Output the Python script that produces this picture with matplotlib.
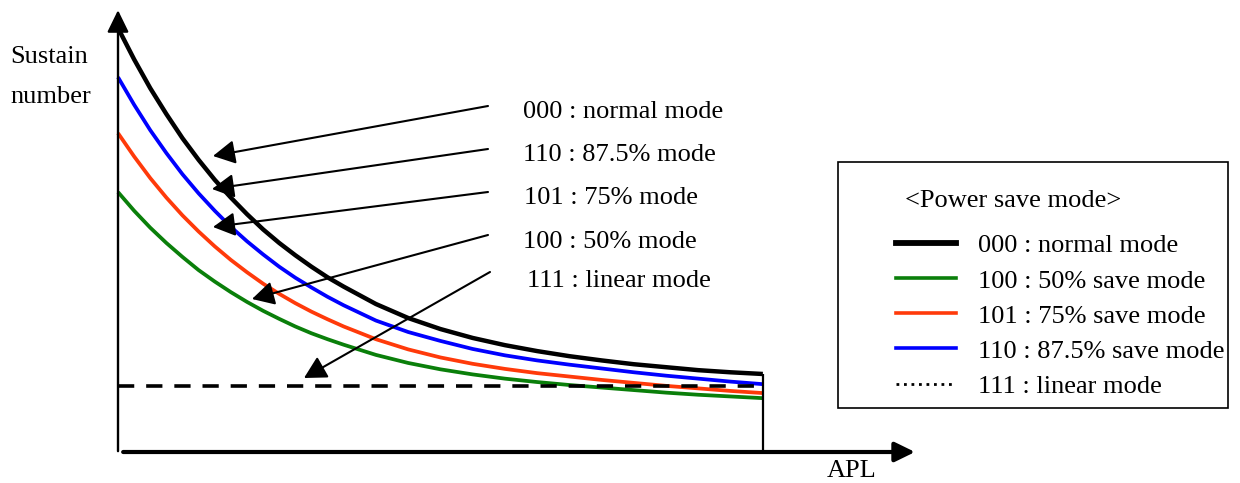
import matplotlib.pyplot as plt
from matplotlib.lines import Line2D
from matplotlib.patches import Rectangle

# APL (percent of full scale) and sustain number (percent of max)
apl = [0, 2.5, 5, 7.5, 10, 12.5, 15, 17.5, 20, 22.5, 25, 27.5, 30, 32.5, 35,
       40, 45, 50, 55, 60, 65, 70, 75, 80, 85, 90, 95, 100]
normal = [100, 92.6, 85.8, 79.7, 74.0, 68.9, 64.2, 60.0, 56.1, 52.5, 49.3, 46.4, 43.7, 41.2, 39.0,
          34.9, 31.6, 29.0, 26.9, 25.2, 23.8, 22.6, 21.6, 20.7, 20.0, 19.3, 18.8, 18.4]
save_875 = [88.4, 81.9, 75.9, 70.5, 65.5, 61.0, 56.9, 53.1, 49.7, 46.6, 43.7, 41.1, 38.8, 36.6, 34.6,
            31.0, 28.3, 26.2, 24.3, 22.8, 21.6, 20.6, 19.7, 18.8, 18.0, 17.3, 16.6, 16.0]
save_75 = [75.2, 69.7, 64.6, 60.0, 55.8, 52.0, 48.5, 45.3, 42.4, 39.7, 37.3, 35.1, 33.1, 31.3, 29.6,
           26.6, 24.2, 22.3, 20.8, 19.6, 18.6, 17.8, 17.0, 16.3, 15.6, 15.0, 14.4, 13.9]
save_50 = [61.3, 56.9, 52.9, 49.3, 46.0, 42.9, 40.2, 37.7, 35.4, 33.3, 31.4, 29.6, 28.0, 26.6, 25.3,
           22.9, 21.0, 19.5, 18.3, 17.3, 16.5, 15.8, 15.2, 14.6, 14.0, 13.5, 13.1, 12.7]
linear_level = 15.6

mode_labels = ["000 : normal mode", "110 : 87.5% mode", "101 : 75% mode",
               "100 : 50% mode", "111 : linear mode"]
legend_labels = ["000 : normal mode", "100 : 50% save mode", "101 : 75% save mode",
                 "110 : 87.5% save mode", "111 : linear mode"]

GREEN = "#0a7f0a"
RED = "#ff3a0a"
BLUE = "#0000ff"

plt.rcParams['font.family'] = ['Liberation Serif', 'DejaVu Serif']
FS = 19

fig = plt.figure(figsize=(12.4, 4.83), dpi=100)
ax = fig.add_axes([0, 0, 1, 1])
ax.set_xlim(-18.3, 174.0)
ax.set_ylim(-7.31, 106.6)
ax.axis('off')


def fpos(x, y):
    # pixel position (from top-left) -> figure fraction
    return (x / 1240, 1 - y / 483)


# curves
ax.plot(apl, normal, color='black', lw=3.2, solid_capstyle='butt')
ax.plot(apl, save_875, color=BLUE, lw=2.7, solid_capstyle='butt')
ax.plot(apl, save_75, color=RED, lw=2.7, solid_capstyle='butt')
ax.plot(apl, save_50, color=GREEN, lw=2.7, solid_capstyle='butt')
ax.plot([apl[0], apl[-1]], [linear_level, linear_level], color='black', lw=2.6,
        dashes=(4.5, 3.3))
ax.vlines(apl[-1], 0, normal[-1], color='black', lw=1.6)

# axes with arrow heads
ax.annotate('', xy=(0, 104.2), xytext=(0, 0.2),
            arrowprops=dict(arrowstyle='-|>,head_length=0.45,head_width=0.22', color='black',
                            lw=1.7, mutation_scale=30, shrinkA=0, shrinkB=0))
ax.annotate('', xy=(123.6, 0), xytext=(0.8, 0),
            arrowprops=dict(arrowstyle='-|>,head_length=0.45,head_width=0.22', color='black',
                            lw=3.0, mutation_scale=27, shrinkA=0, shrinkB=0))

fig.text(*fpos(10, 63), "Sustain", fontsize=FS, va='baseline')
fig.text(*fpos(10, 103), "number", fontsize=FS, va='baseline')
fig.text(*fpos(827, 477), "APL", fontsize=FS, va='baseline')

# callouts
text_x = [523, 523, 524, 523, 527]
text_base = [118, 161, 204, 248, 287]
arrow_start = [(488, 106), (488, 149), (488, 192), (488, 235), (490, 272)]
arrow_tip = [(213, 156), (212, 189), (213, 227), (252, 299), (304, 378)]
for lab, tx, tb, s, t in zip(mode_labels, text_x, text_base, arrow_start, arrow_tip):
    fig.text(*fpos(tx, tb), lab, fontsize=FS, va='baseline')
    ax.annotate('', xy=fpos(*t), xytext=fpos(*s),
                xycoords='figure fraction', textcoords='figure fraction',
                arrowprops=dict(arrowstyle='-|>,head_length=0.5,head_width=0.27',
                                color='black', lw=1.5, mutation_scale=27,
                                shrinkA=0, shrinkB=0))

# legend box
handles = [
    Line2D([], [], color='black', lw=4.2),
    Line2D([], [], color=GREEN, lw=2.6),
    Line2D([], [], color=RED, lw=2.6),
    Line2D([], [], color=BLUE, lw=2.6),
    Line2D([], [], color='black', lw=2.0, linestyle=(0, (1, 1.7))),
]
fig.legend(handles, legend_labels, loc='upper left', bbox_to_anchor=fpos(896, 234),
           bbox_transform=fig.transFigure, frameon=False, fontsize=FS,
           borderpad=0, borderaxespad=0, handlelength=2.27, handletextpad=0.83,
           labelspacing=0.44)
fig.text(*fpos(905, 207), "<Power save mode>", fontsize=FS, va='baseline')
fig.add_artist(Rectangle(fpos(838, 408), 390 / 1240, 246 / 483, transform=fig.transFigure,
                         fill=False, ec='black', lw=1.2))

fig.savefig('out.png', dpi=100)
